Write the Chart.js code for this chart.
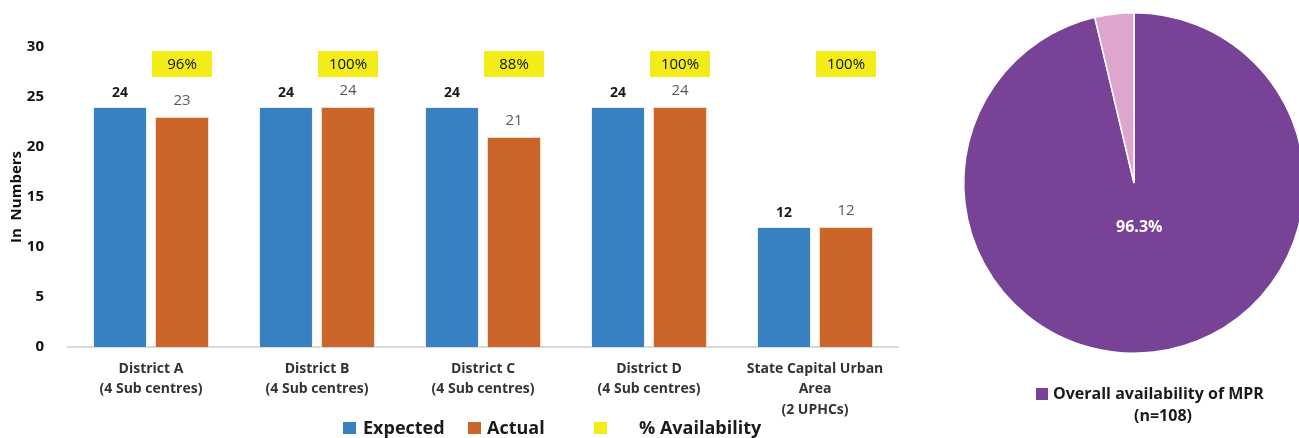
<!DOCTYPE html>
<html>
<head>
<meta charset="utf-8">
<script src="https://cdn.jsdelivr.net/npm/chart.js@4.4.1/dist/chart.umd.min.js"></script>
<style>
  html, body { margin: 0; padding: 0; background: #fff; overflow: hidden; }
  #wrap { position: relative; width: 1299px; height: 438px; overflow: hidden; }
  #barBox { position: absolute; left: 0; top: 0; width: 935px; height: 438px; }
  #pieBox { position: absolute; left: 950px; top: 0; width: 368px; height: 438px; }
</style>
</head>
<body>
<div id="wrap">
  <div id="barBox"><canvas id="barChart"></canvas></div>
  <div id="pieBox"><canvas id="pieChart"></canvas></div>
</div>
<script>
// Daten
const kategorien = [
  ['District A', '(4 Sub centres)'],
  ['District B', '(4 Sub centres)'],
  ['District C', '(4 Sub centres)'],
  ['District D', '(4 Sub centres)'],
  ['State Capital Urban', 'Area', '(2 UPHCs)']
];
const erwartet = [24, 24, 24, 24, 12];
const tatsaechlich = [23, 24, 21, 24, 12];
const verfuegbarkeit = [96, 100, 88, 100, 100];
const yTicks = [0, 5, 10, 15, 20, 25, 30];

const pieLabels = ['Overall availability of MPR', 'Not available'];
const pieWerte = [96.3, 3.7];

const blau = '#3780c1';
const orange = '#cb6428';
const gelb = '#f3ec19';
const lila = '#784397';
const rosa = '#dea6cc';
const schrift = '"Open Sans", "Noto Sans", sans-serif';

// Zahlen ueber den Balken und gelbe Prozentkaesten
const balkenBeschriftung = {
  id: 'balkenBeschriftung',
  afterDatasetsDraw(chart) {
    const ctx = chart.ctx;
    const y = chart.scales.y;
    ctx.save();
    ctx.textAlign = 'center';
    ctx.textBaseline = 'middle';
    const m0 = chart.getDatasetMeta(0);
    const m1 = chart.getDatasetMeta(1);
    m0.data.forEach((bar, i) => {
      ctx.fillStyle = '#1a1a1a';
      ctx.font = 'bold 14px ' + schrift;
      ctx.fillText(erwartet[i], bar.x, bar.y - 14);
    });
    m1.data.forEach((bar, i) => {
      ctx.fillStyle = '#595959';
      ctx.font = '15px ' + schrift;
      ctx.fillText(tatsaechlich[i], bar.x, bar.y - 16);
      // Kasten mit % Verfuegbarkeit
      const cy = y.getPixelForValue(28.3);
      ctx.fillStyle = gelb;
      ctx.fillRect(bar.x - 30, cy - 13, 60, 26);
      ctx.fillStyle = '#111';
      ctx.font = '15px ' + schrift;
      ctx.fillText(verfuegbarkeit[i] + '%', bar.x, cy + 1);
    });
    ctx.restore();
  }
};

// Legende unter dem Balkendiagramm
const balkenLegende = {
  id: 'balkenLegende',
  afterDraw(chart) {
    const ctx = chart.ctx;
    const mitte = chart.chartArea.left + 479;
    const items = [
      { farbe: blau, text: 'Expected', x: mitte - 204, tx: mitte - 184 },
      { farbe: orange, text: 'Actual', x: mitte - 79, tx: mitte - 60 },
      { farbe: gelb, text: '% Availability', x: mitte + 47, tx: mitte + 92 }
    ];
    ctx.save();
    ctx.textBaseline = 'middle';
    ctx.textAlign = 'left';
    ctx.font = 'bold 18px ' + schrift;
    items.forEach(it => {
      ctx.fillStyle = it.farbe;
      ctx.fillRect(it.x, 422, 13, 12);
      ctx.fillStyle = '#1a1a1a';
      ctx.fillText(it.text, it.tx, 429);
    });
    ctx.restore();
  }
};

new Chart(document.getElementById('barChart'), {
  type: 'bar',
  data: {
    labels: kategorien,
    datasets: [
      {
        label: 'Expected',
        data: erwartet,
        backgroundColor: blau,
        borderColor: '#e8eef6',
        borderWidth: 1,
        categoryPercentage: 0.747,
        barPercentage: 0.87
      },
      {
        label: 'Actual',
        data: tatsaechlich,
        backgroundColor: orange,
        borderColor: '#f0d8cc',
        borderWidth: 1,
        categoryPercentage: 0.747,
        barPercentage: 0.87
      }
    ]
  },
  options: {
    responsive: true,
    maintainAspectRatio: false,
    animation: false,
    layout: { padding: { top: 47, right: 37, bottom: 0, left: 0 } },
    scales: {
      x: {
        grid: { display: false },
        border: { display: true, color: '#d9d9d9', width: 2 },
        ticks: {
          color: '#333',
          padding: 4,
          maxRotation: 0,
          font: { family: schrift, size: 14, weight: 'bold', lineHeight: 1.45 }
        },
        afterFit(axis) { axis.height = 91; }
      },
      y: {
        min: 0,
        max: 30,
        afterBuildTicks(axis) { axis.ticks = yTicks.map(v => ({ value: v })); },
        grid: { display: false },
        border: { display: false },
        ticks: {
          color: '#111',
          padding: 16,
          font: { family: schrift, size: 15, weight: 'bold' }
        },
        title: {
          display: true,
          text: 'In  Numbers',
          color: '#111',
          padding: { top: 8, bottom: 0 },
          font: { family: schrift, size: 15, weight: 'bold' }
        },
        afterFit(axis) { axis.width = 68; }
      }
    },
    plugins: {
      legend: { display: false },
      tooltip: { enabled: false }
    }
  },
  plugins: [balkenBeschriftung, balkenLegende]
});

// Prozentwert im Kreis und Legende darunter
const kreisBeschriftung = {
  id: 'kreisBeschriftung',
  afterDraw(chart) {
    const ctx = chart.ctx;
    const bogen = chart.getDatasetMeta(0).data[0];
    const mitteWinkel = (bogen.startAngle + bogen.endAngle) / 2;
    const r = bogen.outerRadius * 0.265;
    ctx.save();
    ctx.textAlign = 'center';
    ctx.textBaseline = 'middle';
    ctx.fillStyle = '#fff';
    ctx.font = 'bold 16px ' + schrift;
    ctx.fillText(pieWerte[0] + '%', bogen.x + Math.cos(mitteWinkel) * r, bogen.y + Math.sin(mitteWinkel) * r);

    // Legende
    ctx.fillStyle = lila;
    ctx.fillRect(86, 388, 12, 12);
    ctx.fillStyle = '#1a1a1a';
    ctx.textAlign = 'left';
    ctx.font = 'bold 16px ' + schrift;
    ctx.fillText(pieLabels[0], 103, 394);
    ctx.textAlign = 'center';
    ctx.fillText('(n=108)', 213, 416);
    ctx.restore();
  }
};

new Chart(document.getElementById('pieChart'), {
  type: 'pie',
  data: {
    labels: pieLabels,
    datasets: [{
      data: pieWerte,
      backgroundColor: [lila, rosa],
      borderColor: '#fff',
      borderWidth: 1.5
    }]
  },
  options: {
    responsive: true,
    maintainAspectRatio: false,
    animation: false,
    layout: { padding: { top: 12, bottom: 84, left: 0, right: 0 } },
    plugins: {
      legend: { display: false },
      tooltip: { enabled: false }
    }
  },
  plugins: [kreisBeschriftung]
});
</script>
</body>
</html>
